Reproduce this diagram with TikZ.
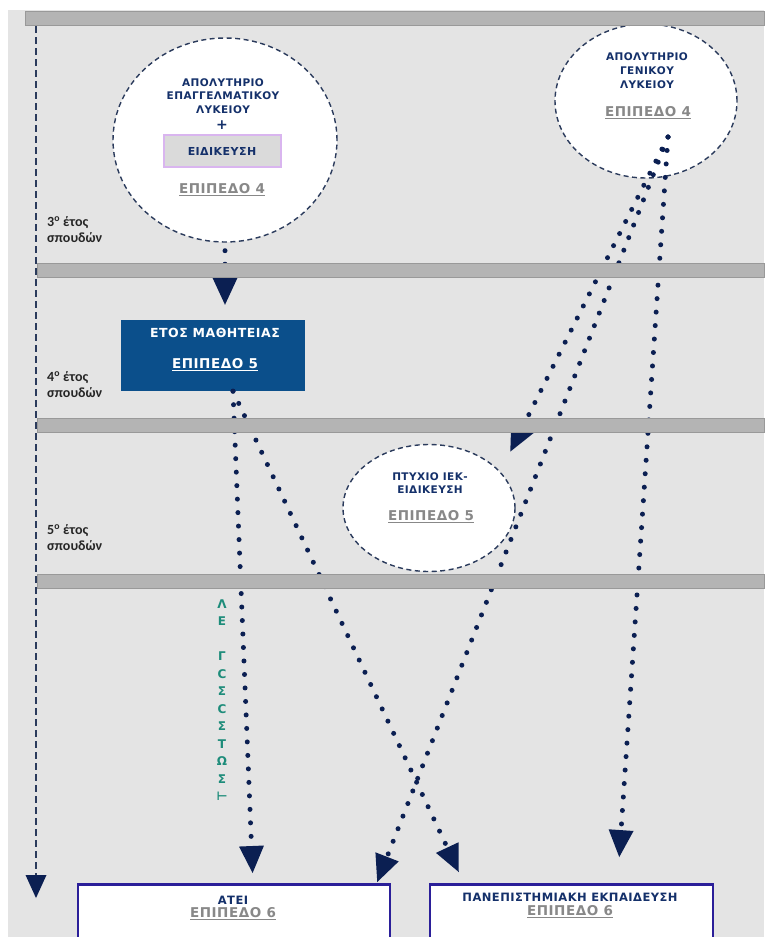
\documentclass[tikz,border=0pt]{standalone}
\usepackage{fontspec}
\setmainfont{DejaVu Sans}
\newfontfamily\capfont[LetterSpace=4,BoldFont={DejaVu Sans Bold}]{DejaVu Sans}
\newfontfamily\lblfont{Carlito}
\usetikzlibrary{arrows.meta,positioning,shapes.geometric}
\definecolor{pagegray}{HTML}{E4E4E4}
\definecolor{bargray}{HTML}{B4B4B4}
\definecolor{ringnavy}{HTML}{2B3B5C}
\definecolor{titlenavy}{HTML}{14306A}
\definecolor{dotnavy}{HTML}{0B1F52}
\definecolor{appblue}{HTML}{0B4F8B}
\definecolor{framebl}{HTML}{2B1F99}
\definecolor{levelgray}{HTML}{888888}
\definecolor{examteal}{HTML}{1D8C7A}
\definecolor{lilac}{HTML}{D9B5EF}
\definecolor{specgray}{HTML}{DADADA}
\tikzset{
  yearbar/.style={fill=bargray, draw=bargray!85!black, line width=0.6pt},
  ring/.style={ellipse, draw=ringnavy, fill=white, line width=1.4pt,
    dash pattern=on 5pt off 3.5pt, inner sep=0pt},
  head/.style={font=\capfont\bfseries\fontsize{10.5}{13.5}\selectfont,
    text=titlenavy, align=center, inner sep=0pt},
  level/.style={font=\capfont\bfseries\fontsize{13.5}{14}\selectfont,
    text=levelgray, inner sep=0pt},
  spec/.style={head, font=\capfont\bfseries\fontsize{11}{13}\selectfont,
    draw=lilac, fill=specgray, line width=2pt,
    minimum width=117pt, minimum height=32pt},
  degree/.style={draw=framebl, fill=white, line width=2.5pt,
    minimum height=110pt, anchor=north},
  year/.style={font=\lblfont\bfseries\fontsize{14}{16}\selectfont,
    text=black!85, align=left, anchor=west, inner sep=0pt},
  vexam/.style={font=\bfseries\fontsize{12}{17.5}\selectfont, text=examteal,
    align=center, inner sep=0pt},
  % dotted routes between qualifications
  route/.style={draw=dotnavy, line width=5pt, line cap=round,
    dash pattern=on 0pt off 13.5pt,
    -{Triangle[width=25pt,length=27pt,line width=0pt]}},
  timeline/.style={draw=ringnavy, line width=1.4pt, dash pattern=on 7pt off 4pt,
    -{Triangle[width=21pt,length=23pt,line width=0pt,fill=dotnavy]}},
}

\begin{document}
\begin{tikzpicture}[x=1pt,y=-1pt]
  \useasboundingbox (0,0) rectangle (764,937);
  \fill[pagegray] (8,10) rectangle (764,937);

  % study years down the left
  \coordinate (timetop) at (36,26);
  \coordinate (timebot) at (36,898);
  \draw[timeline] (timetop) -- (timebot);
  \node[year] (yr3) at (47,230) {3\textsuperscript{ο} έτος\\σπουδών};
  \node[year] (yr4) at (47,385) {4\textsuperscript{ο} έτος\\σπουδών};
  \node[year] (yr5) at (47,538) {5\textsuperscript{ο} έτος\\σπουδών};

  % vocational lyceum
  \node[ring, minimum width=224pt, minimum height=204pt] (epal) at (225,140) {};
  \node[head] (epaltxt) at (223,96) {ΑΠΟΛΥΤΗΡΙΟ\\ΕΠΑΓΓΕΛΜΑΤΙΚΟΥ\\ΛΥΚΕΙΟΥ};
  \node[head, font=\bfseries\fontsize{14}{14}\selectfont] (plus) at (222,125) {+};
  \node[spec] (eidik) at (222,151) {ΕΙΔΙΚΕΥΣΗ};
  \node[level, below=15pt of eidik] (epallvl) {\underline{ΕΠΙΠΕΔΟ 4}};

  % general lyceum
  \node[ring, minimum width=182pt, minimum height=154pt] (gel) at (646,101) {};
  \node[head, font=\capfont\bfseries\fontsize{10.5}{14}\selectfont] (geltxt) at (647,71) {ΑΠΟΛΥΤΗΡΙΟ\\ΓΕΝΙΚΟΥ\\ΛΥΚΕΙΟΥ};
  \node[level] (gellvl) at (648,113) {\underline{ΕΠΙΠΕΔΟ 4}};

  % apprenticeship year
  \node[fill=appblue, minimum width=184pt, minimum height=71pt, inner sep=0pt] (mathiteia) at (213,355.5) {};
  \node[head, text=white, font=\capfont\bfseries\fontsize{12.5}{13}\selectfont] (maththtxt) at (215,333) {ΕΤΟΣ ΜΑΘΗΤΕΙΑΣ};
  \node[level, text=white] (mathlvl) at (215,365) {\underline{ΕΠΙΠΕΔΟ 5}};

  % IEK diploma
  \node[ring, minimum width=172pt, minimum height=127pt] (iek) at (429,508) {};
  \node[head, font=\capfont\bfseries\fontsize{10.5}{13}\selectfont] (iektxt) at (430,483.5) {ΠΤΥΧΙΟ ΙΕΚ-\\ΕΙΔΙΚΕΥΣΗ};
  \node[level] (ieklvl) at (431,517) {\underline{ΕΠΙΠΕΔΟ 5}};

  % higher education
  \node[degree, minimum width=312pt] (atei) at (234,883) {};
  \node[head, font=\capfont\bfseries\fontsize{11.5}{13}\selectfont] (ateitxt) at (233,900) {ΑΤΕΙ};
  \node[level] (ateilvl) at (233,914) {\underline{ΕΠΙΠΕΔΟ 6}};
  \node[degree, minimum width=283pt] (aei) at (571.5,883) {};
  \node[head, font=\capfont\bfseries\fontsize{11.5}{13}\selectfont] (aeitxt) at (570,897) {ΠΑΝΕΠΙΣΤΗΜΙΑΚΗ ΕΚΠΑΙΔΕΥΣΗ};
  \node[level] (aeilvl) at (570,912) {\underline{ΕΠΙΠΕΔΟ 6}};

  % exams label beside the ATEI route
  \node[vexam] (exams) at (222,700) {Λ\\Ε\\\mbox{}\\Γ\\Ϲ\\Σ\\Ϲ\\Σ\\Τ\\Ω\\Σ\\⊢};

  % routes
  \coordinate (gelout) at ([shift={(22,36)}]gel.center);
  \coordinate (mathout) at ([xshift=20pt]mathiteia.south);
  \coordinate (iektip) at ([shift={(20,-11)}]iek.north east);
  \coordinate (ateiin) at ([xshift=19pt]atei.north);
  \coordinate (ateitip) at ([shift={(-14,-1)}]atei.north east);
  \coordinate (aeiin) at ([shift={(30,-11)}]aei.north west);
  \coordinate (aeitip) at ([xshift=46pt]aei.north);
  \draw[route, shorten <=8pt, shorten >=15pt] (epal.south) -- (mathiteia.north -| epal.south);
  \draw[route] (gelout) -- (iektip);
  \draw[route] (gelout) -- (ateitip);
  \draw[route, shorten >=26pt] (gelout) -- (aeitip);
  \draw[route, shorten >=10pt] (mathout) -- (ateiin);
  \draw[route] (mathout) -- (aeiin);

  % year dividers sit over the routes
  \fill[yearbar] (25,11) rectangle (764,25);
  \foreach \yb in {263,418,574}
    \fill[yearbar] (37,\yb) rectangle (764,\yb+14);
\end{tikzpicture}
\end{document}
